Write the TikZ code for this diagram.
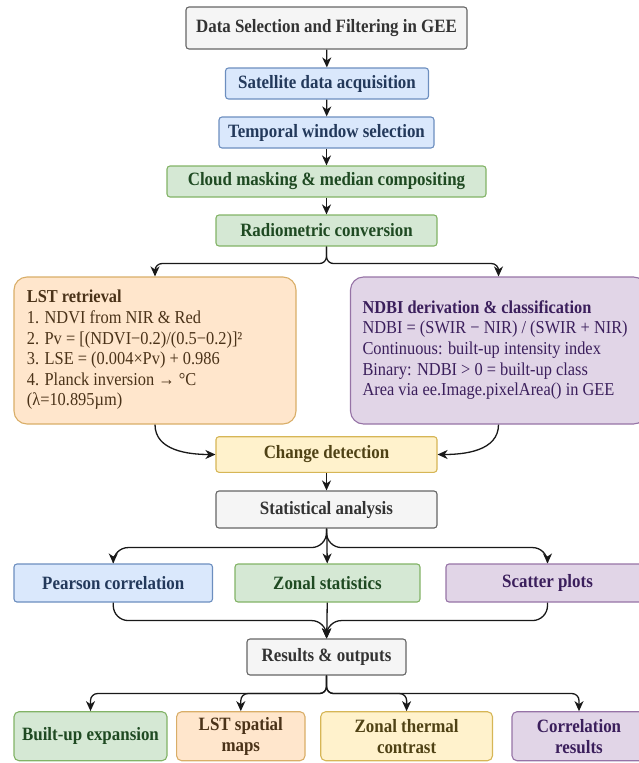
\documentclass[tikz,border=0pt]{standalone}
\usepackage{fontspec}
\setmainfont[FakeStretch=0.9]{Liberation Serif}
\usetikzlibrary{arrows.meta,calc}
\definecolor{gF}{HTML}{F5F5F5}\definecolor{gD}{HTML}{666666}\definecolor{gT}{HTML}{333333}
\definecolor{bF}{HTML}{DAE8FC}\definecolor{bD}{HTML}{6C8EBF}\definecolor{bT}{HTML}{23395B}
\definecolor{nF}{HTML}{D5E8D4}\definecolor{nD}{HTML}{82B366}\definecolor{nT}{HTML}{1F4A22}
\definecolor{yF}{HTML}{FFF2CC}\definecolor{yD}{HTML}{D6B656}\definecolor{yT}{HTML}{4F4215}
\definecolor{pF}{HTML}{E1D5E7}\definecolor{pD}{HTML}{9673A6}\definecolor{pT}{HTML}{3B1F5C}
\definecolor{oF}{HTML}{FFE6CC}\definecolor{oD}{HTML}{D9AE68}\definecolor{oT}{HTML}{4A3218}
\begin{document}
\begin{tikzpicture}[x=1pt,y=-1pt,
  box/.style={draw, line width=1.1pt, rounded corners=3pt, inner sep=0pt, align=center,
    font=\fontsize{18.8}{21}\selectfont\bfseries},
  boxgray/.style={box, fill=gF, draw=gD, text=gT},
  boxblue/.style={box, fill=bF, draw=bD, text=bT},
  boxgreen/.style={box, fill=nF, draw=nD, text=nT},
  boxyellow/.style={box, fill=yF, draw=yD, text=yT},
  boxpurple/.style={box, fill=pF, draw=pD, text=pT},
  boxorange/.style={box, fill=oF, draw=oD, text=oT},
  bodytext/.style={inner sep=0pt, align=left, font=\fontsize{18.2}{20.6}\selectfont},
  arr/.style={-{Stealth[length=10pt,width=9pt,inset=3pt]}, line width=1.3pt, draw=black!90},
  ]
\useasboundingbox (0,0) rectangle (638,763);
% main column
\node[boxgray, minimum width=281pt, minimum height=42pt] (top) at (326.5,28) {Data Selection and Filtering in GEE};
\node[boxblue, minimum width=203pt, minimum height=31pt] (sat) at (327,83.5) {Satellite data acquisition};
\node[boxblue, minimum width=215pt, minimum height=31pt] (temp) at (326.5,132.5) {Temporal window selection};
\node[boxgreen, minimum width=319pt, minimum height=31pt] (cloud) at (326.5,181.5) {Cloud masking \& median compositing};
\node[boxgreen, minimum width=221pt, minimum height=31pt] (radio) at (326.5,230.5) {Radiometric conversion};
% two branches
\node[boxorange, rounded corners=13pt, minimum width=282pt, minimum height=147pt] (lst) at (155,350.5) {};
\node[bodytext, anchor=west, text=oT] (lsttext) at (26.7,350) {\textbf{LST retrieval}\\1. NDVI from NIR \& Red\\2. Pv = [(NDVI−0.2)/(0.5−0.2)]²\\3. LSE = (0.004×Pv) + 0.986\\4. Planck inversion → °C\\(λ=10.895µm)};
\node[boxpurple, rounded corners=13pt, minimum width=296pt, minimum height=147pt] (ndbi) at (498.5,350.5) {};
\node[bodytext, anchor=west, text=pT] (ndbitext) at (362.3,350) {\textbf{NDBI derivation \& classification}\\NDBI = (SWIR − NIR) / (SWIR + NIR)\\Continuous: built-up intensity index\\Binary: NDBI > 0 = built-up class\\Area via ee.Image.pixelArea() in GEE};
\node[boxyellow, minimum width=221pt, minimum height=35.6pt] (change) at (326.5,454.5) {Change detection};
\node[boxgray, minimum width=221pt, minimum height=37pt] (stat) at (326.5,509.5) {Statistical analysis};
% analyses
\node[boxblue, minimum width=198.5pt, minimum height=38pt] (pear) at (113.25,583) {Pearson correlation};
\node[boxgreen, minimum width=185pt, minimum height=38pt] (zonal) at (327.5,583) {Zonal statistics};
\node[boxpurple, minimum width=203pt, minimum height=38pt] (scat) at (547.5,583) {Scatter plots};
\node[boxgray, minimum width=159pt, minimum height=36pt] (res) at (326.5,657) {Results \& outputs};
% outputs
\node[boxgreen, rounded corners=5pt, minimum width=153pt, minimum height=49pt] (o1) at (90.5,736.2) {Built-up expansion};
\node[boxorange, rounded corners=5pt, minimum width=128.4pt, minimum height=49pt] (o2) at (240.8,736.2) {LST spatial\\maps};
\node[boxyellow, rounded corners=5pt, minimum width=171.8pt, minimum height=49pt] (o3) at (406.6,736.2) {Zonal thermal\\contrast};
\node[boxpurple, rounded corners=5pt, minimum width=134pt, minimum height=49pt] (o4) at (579,736.2) {Correlation\\results};
% connectors
\draw[arr] (top) -- (sat);
\draw[arr] (sat) -- (temp);
\draw[arr] (temp) -- (cloud);
\draw[arr] (cloud) -- (radio);
\draw[arr, rounded corners=7pt] (radio.south) -- ++(0,17) -| (lst.north);
\draw[arr, rounded corners=7pt] (radio.south) -- ++(0,17) -| (ndbi.north);
\draw[arr] (lst.south) to[out=-90, in=180] (change.west);
\draw[arr] (ndbi.south) to[out=-90, in=0] (change.east);
\draw[arr] (change) -- (stat);
\draw[arr, rounded corners=15pt] (stat.south) -- ++(0,19) -| (pear.north);
\draw[arr] (stat) -- (zonal);
\draw[arr, rounded corners=15pt] (stat.south) -- ++(0,19) -| (scat.north);
\draw[arr, rounded corners=15pt] (pear.south) -- ++(0,18) -| (res.north);
\draw[arr] (zonal) -- (res);
\draw[arr, rounded corners=15pt] (scat.south) -- ++(0,18) -| (res.north);
\draw[arr, rounded corners=7pt] (res.south) -- ++(0,18) -| (o1.north);
\draw[arr, rounded corners=7pt] (res.south) -- ++(0,18) -| (o2.north);
\draw[arr, rounded corners=7pt] (res.south) -- ++(0,18) -| (o3.north);
\draw[arr, rounded corners=7pt] (res.south) -- ++(0,18) -| (o4.north);
\end{tikzpicture}
\end{document}
